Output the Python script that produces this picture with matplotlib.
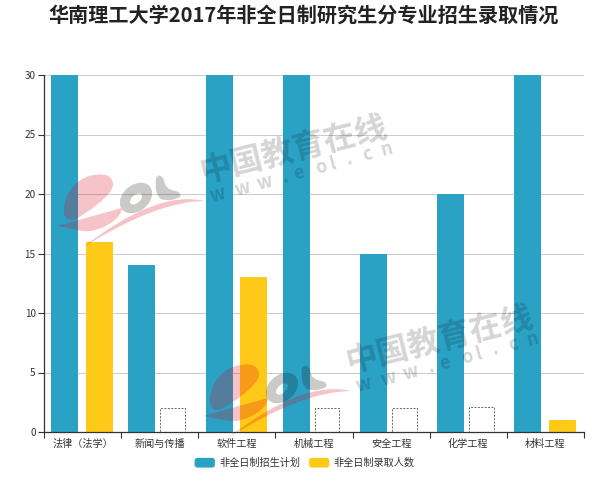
import numpy as np
from matplotlib import pyplot as plt
from matplotlib.legend_handler import HandlerPatch
from matplotlib.patches import FancyBboxPatch, PathPatch, Patch
from matplotlib.path import Path
from matplotlib.transforms import Affine2D

plt.rcParams['font.family'] = ['Noto Sans CJK SC', 'DejaVu Sans']

TITLE = '华南理工大学2017年非全日制研究生分专业招生录取情况'
categories = ['法律（法学）', '新闻与传播', '软件工程', '机械工程', '安全工程', '化学工程', '材料工程']
plan_values = [30, 14, 30, 30, 15, 20, 30]
admit_values = [16, 0, 13, 0, 0, 0, 1]
# пунктирные рамки на картинке
dashed_values = [0, 2, 0, 2, 2, 2.1, 0]
y_ticks = [0, 5, 10, 15, 20, 25, 30]
plan_label = '非全日制招生计划'
admit_label = '非全日制录取人数'

BLUE = '#2aa2c6'
YELLOW = '#ffc918'


class RoundHandler(HandlerPatch):
    def create_artists(self, legend, orig, xd, yd, w, h, fontsize, trans):
        p = FancyBboxPatch((-xd + 2, -yd + 2), w - 4, h - 4, boxstyle='round,pad=2',
                           facecolor=orig.get_facecolor(), edgecolor='none', transform=trans)
        return [p]


def draw_watermark(fig, px, dx, dy):
    move = Affine2D().translate(dx, dy) + px
    red = dict(facecolor=(221 / 255, 5 / 255, 26 / 255, 0.24), edgecolor='none', transform=move)
    grey = dict(facecolor=(0.07, 0.06, 0.04, 0.22), edgecolor='none', transform=move)
    M, L, C3, C4 = Path.MOVETO, Path.LINETO, Path.CURVE3, Path.CURVE4
    # логотип eol
    e_top = Path([(64, 207), (66, 190), (80, 176), (95, 175), (105, 173), (114, 176), (113, 186),
                  (110, 197), (88, 212), (76, 219), (66, 222), (63, 217), (64, 207)],
                 [M] + [C4] * 12)
    e_low = Path([(57, 226), (122, 208), (122, 215), (110, 228), (90, 231), (80, 232), (70, 228), (57, 226)],
                 [M, L] + [C4] * 6)
    swoosh = Path([(82, 248), (156.5, 189.5), (205, 201), (156.5, 201), (82, 248)],
                  [M, C3, C3, C3, C3])
    l_shape = Path([(156, 178), (160, 172), (164, 180), (165, 190), (176, 191), (182, 193), (180, 197),
                    (170, 202), (161, 199), (154, 194), (156, 178)],
                   [M] + [C3] * 10)
    circle = Path.unit_circle()
    outer = Affine2D().scale(18, 13).rotate_deg(-40).translate(136, 198).transform_path(circle)
    hole = Affine2D().scale(7, 4).rotate_deg(-40).translate(136, 199).transform_path(circle)
    hole = Path(hole.vertices[::-1], hole.codes)
    o_shape = Path.make_compound_path(outer, hole)
    for p in [e_top, e_low, swoosh]:
        fig.add_artist(PathPatch(p, **red))
    for p in [o_shape, l_shape]:
        fig.add_artist(PathPatch(p, **grey))
    fig.text((293 + dx) / 600, 1 - (150 + dy) / 480, '中国教育在线', fontsize=23, fontweight='bold',
             color='black', alpha=0.17, rotation=14, ha='center', va='center',
             rotation_mode='anchor')
    # адрес идёт вразрядку, по буквам
    steps = [0, 0.145, 0.27, 0.39, 0.47, 0.6, 0.67, 0.76, 0.87, 0.98]
    for ch, t in zip('www.eol.cn', steps):
        fig.text((218 + 172 * t + dx) / 600, 1 - (195 - 47 * t + dy) / 480, ch, fontsize=13,
                 fontweight='bold', color='black', alpha=0.17, rotation=15, ha='center',
                 va='center', rotation_mode='anchor')


def main():
    fig = plt.figure(figsize=(6, 4.8), dpi=100)
    ax = fig.add_axes([44 / 600, 1 - 432 / 480, 540 / 600, 357 / 480])

    x = np.arange(len(categories))
    ax.bar(x - 0.23, plan_values, 0.35, color=BLUE, label=plan_label, zorder=3)
    ax.bar(x + 0.22, admit_values, 0.35, color=YELLOW, label=admit_label, zorder=3)
    dashed = np.array(dashed_values, dtype=float)
    keep = dashed > 0
    ax.bar(x[keep] + 0.17, dashed[keep], 0.32, facecolor='none', edgecolor='#666666',
           linewidth=0.7, linestyle=(0, (2, 1.5)), zorder=3)

    ax.set_xlim(-0.5, len(categories) - 0.5)
    ax.set_ylim(0, 30)
    ax.set_yticks(y_ticks)
    ax.set_xticks(np.arange(len(categories) + 1) - 0.5)
    ax.set_xticklabels([])
    ax.set_xticks(x, minor=True)
    ax.set_xticklabels(categories, minor=True, fontsize=7.3, color='#333333')
    ax.tick_params(axis='x', which='major', length=4, width=0.8, color='#333333')
    ax.tick_params(axis='x', which='minor', length=0, pad=5)
    ax.tick_params(axis='y', length=4, width=0.8, color='#333333', labelsize=7.2, labelcolor='#333333', pad=2)
    ax.grid(axis='y', color='#cccccc', linewidth=0.75, zorder=0)
    ax.set_axisbelow(True)
    for side in ['top', 'right']:
        ax.spines[side].set_visible(False)
    for side in ['left', 'bottom']:
        ax.spines[side].set_color('#333333')
        ax.spines[side].set_linewidth(0.9)
        ax.spines[side].set_zorder(5)

    handles = [Patch(facecolor=BLUE, label=plan_label), Patch(facecolor=YELLOW, label=admit_label)]
    fig.legend(handles=handles, loc='center', bbox_to_anchor=(304.5 / 600, 1 - 463 / 480), ncol=2,
               frameon=False, fontsize=7.3, handlelength=2.0, handleheight=1.1, handletextpad=0.4,
               columnspacing=0.9, labelcolor='#333333', handler_map={Patch: RoundHandler()})

    fig.text(304 / 600, 1 - 15 / 480, TITLE, fontsize=14.5, fontweight='bold', color='#222222',
             ha='center', va='center')

    px = Affine2D().scale(1 / 600, -1 / 480).translate(0, 1) + fig.transFigure
    draw_watermark(fig, px, 0, 0)
    draw_watermark(fig, px, 146, 190)

    plt.savefig('out.png', dpi=100)


if __name__ == '__main__':
    main()
